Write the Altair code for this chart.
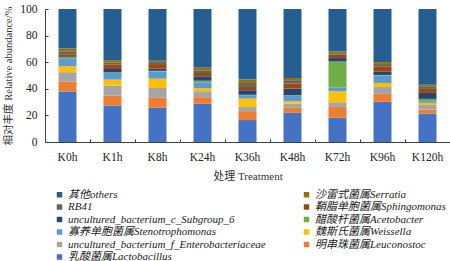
import altair as alt
import pandas as pd

times = ["K0h", "K1h", "K8h", "K24h", "K36h", "K48h", "K72h", "K96h", "K120h"]

# stacked bottom -> top
lactobacillus   = [38.0, 27.4, 25.7, 28.7, 16.5, 21.9, 18.2, 30.2, 21.4]
leuconostoc     = [7.5, 7.5, 7.5, 5.0, 6.7, 3.8, 8.2, 6.0, 3.0]
enterobact      = [7.0, 7.5, 7.4, 4.5, 3.2, 3.2, 3.5, 5.2, 3.5]
weissella       = [4.5, 4.5, 7.0, 2.4, 6.3, 1.8, 8.3, 3.0, 1.5]
stenotroph      = [5.5, 5.0, 5.5, 4.3, 2.5, 4.0, 2.9, 5.5, 1.3]
acetobacter     = [1.2, 0.5, 0.4, 1.2, 0.3, 0.5, 19.5, 0.5, 1.7]
subgroup6       = [0.8, 2.5, 1.6, 3.3, 3.4, 5.0, 2.5, 2.7, 4.5]
sphingomonas    = [1.5, 3.2, 3.5, 2.5, 2.5, 3.8, 2.5, 3.8, 3.0]
rb41            = [1.8, 1.8, 1.5, 2.0, 3.0, 2.5, 1.2, 1.7, 2.0]
serratia        = [2.5, 1.7, 1.0, 2.2, 2.5, 1.7, 1.3, 1.5, 1.2]
others          = [29.7, 38.4, 38.9, 43.9, 53.1, 51.8, 31.9, 39.9, 56.9]

names = [
    "乳酸菌属Lactobacillus",
    "明串珠菌属Leuconostoc",
    "uncultured_bacterium_f_Enterobacteriaceae",
    "魏斯氏菌属Weissella",
    "寡养单胞菌属Stenotrophomonas",
    "醋酸杆菌属Acetobacter",
    "uncultured_bacterium_c_Subgroup_6",
    "鞘脂单胞菌属Sphingomonas",
    "RB41",
    "沙雷式菌属Serratia",
    "其他others",
]
colors = ["#4472C4", "#ED7D31", "#A5A5A5", "#FFC000", "#5B9BD5", "#70AD47",
          "#264478", "#9E480E", "#636363", "#997300", "#255E91"]
series = [lactobacillus, leuconostoc, enterobact, weissella, stenotroph, acetobacter,
          subgroup6, sphingomonas, rb41, serratia, others]

rows = []
for i, (n, vals) in enumerate(zip(names, series)):
    for t, v in zip(times, vals):
        rows.append({"time": t, "genus": n, "value": v, "ord": i})
df = pd.DataFrame(rows)

# desired legend look: left column = others..Lactobacillus, right column = Serratia..Leuconostoc
leg_names = [names[i] for i in [10, 9, 8, 7, 6, 5, 4, 3, 2, 1, 0]]
left = leg_names[:6]
right = leg_names[6:]
display = []  # row-major positions in a 2-column grid
for k in range(6):
    display.append(left[k])
    if k < len(right):
        display.append(right[k])
# the renderer places domain item i at row-major position (i % 3) * 4 + i // 3
domain = [display[(i % 3) * 4 + i // 3] for i in range(len(display))]
dom_colors = [colors[names.index(n)] for n in domain]

FONT = "Liberation Serif, Noto Sans CJK SC, serif"
W, H = 405, 133

xscale = alt.Scale(paddingInner=0, paddingOuter=0)
yscale = alt.Scale(domain=[0, 100], nice=False)

bars = alt.Chart(df).mark_bar(size=18).encode(
    x=alt.X("time:N", sort=times, scale=xscale,
            axis=alt.Axis(title="处理 Treatment", ticks=False, labelAngle=0,
                          labelPadding=9, titlePadding=8, domainColor="#404040", domainWidth=1,
                          labelFontSize=11.5, titleFontSize=11)),
    y=alt.Y("value:Q", stack="zero", scale=yscale,
            axis=alt.Axis(title="相对丰度 Relative abundance/%", values=[0, 20, 40, 60, 80, 100],
                          ticks=False, grid=False, labelPadding=8, titlePadding=6, domain=True,
                          domainColor="#404040", domainWidth=1, labelFontSize=11.5, titleFontSize=10.5)),
    color=alt.Color("genus:N", scale=alt.Scale(domain=domain, range=dom_colors),
                    legend=alt.Legend(title=None, orient="none", legendX=9, legendY=180,
                                      columns=2, columnPadding=35, rowPadding=0.5,
                                      symbolType="square", symbolSize=30,
                                      symbolStrokeWidth=0, labelOffset=3,
                                      labelFontSize=11, labelFontStyle="italic",
                                      labelLimit=400, labelColor="#222222")),
    order=alt.Order("ord:Q", sort="ascending"),
)

ticks = alt.Chart(df).mark_bar(size=18, opacity=0).encode(
    x=alt.X("time:N", sort=times, scale=xscale,
            axis=alt.Axis(orient="top", offset=-H, labels=False, domain=False, title=None,
                          ticks=True, tickBand="extent", tickSize=3, tickColor="#404040")),
    y=alt.Y("value:Q", stack="zero", scale=yscale,
            axis=alt.Axis(orient="right", offset=-W, labels=False, domain=False, title=None,
                          values=[0, 20, 40, 60, 80, 100], grid=False,
                          ticks=True, tickSize=3, tickColor="#404040")),
)

chart = alt.layer(bars, ticks).resolve_axis(x="independent", y="independent").properties(
    width=W, height=H, autosize=alt.AutoSizeParams(type="none"),
    padding={"left": 45, "top": 9, "right": 0, "bottom": 119},
).configure(font=FONT).configure_view(stroke=None).configure_axis(
    labelColor="#222222", titleColor="#333333", titleFontWeight="normal", labelFont=FONT, titleFont=FONT
).configure_legend(labelFont=FONT)

chart.save("out.html", embed_options={"renderer": "svg", "actions": False})
